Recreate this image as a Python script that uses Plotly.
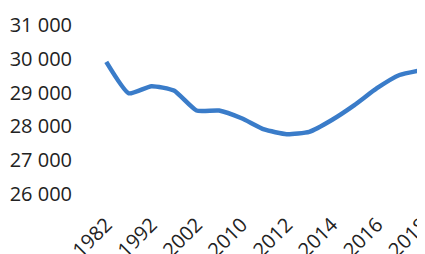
import plotly.graph_objects as go

years = ["1982", "1987", "1992", "1997", "2002", "2006", "2010", "2011",
         "2012", "2013", "2014", "2015", "2016", "2017", "2018"]
values = [29910, 28980, 29190, 29060, 28470, 28470, 28240, 27910,
          27770, 27840, 28190, 28630, 29130, 29520, 29670]
tick_labels = ["1982", "1992", "2002", "2010", "2012", "2014", "2016", "2018"]
y_ticks = [26000, 27000, 28000, 29000, 30000, 31000]
y_tick_text = ["26 000", "27 000", "28 000", "29 000", "30 000", "31 000"]

fig = go.Figure(go.Scatter(
    x=list(range(len(years))), y=values, mode="lines",
    line=dict(color="#3a7cc9", width=4.5, shape="spline", smoothing=0.5),
    hoverinfo="skip",
))

fig.update_layout(
    width=417, height=246,
    margin=dict(l=87, r=0, t=17, b=60),
    paper_bgcolor="white", plot_bgcolor="white",
    showlegend=False,
    font=dict(family="Open Sans", size=20, color="#222222"),
)
fig.update_xaxes(
    range=[-0.5, 14.13], automargin=False,
    tickmode="array",
    tickvals=[years.index(t) for t in tick_labels],
    ticktext=tick_labels,
    tickangle=-45,
    ticklabeloverflow="allow",
    showgrid=False, zeroline=False, showline=False,
    ticks="outside", ticklen=10, tickcolor="rgba(0,0,0,0)",
)
fig.update_yaxes(
    range=[26000, 31000], automargin=False,
    tickmode="array", tickvals=y_ticks, ticktext=y_tick_text,
    showgrid=False, zeroline=False, showline=False,
    ticks="outside", ticklen=18, tickcolor="rgba(0,0,0,0)",
)

fig.write_html("out.html")
